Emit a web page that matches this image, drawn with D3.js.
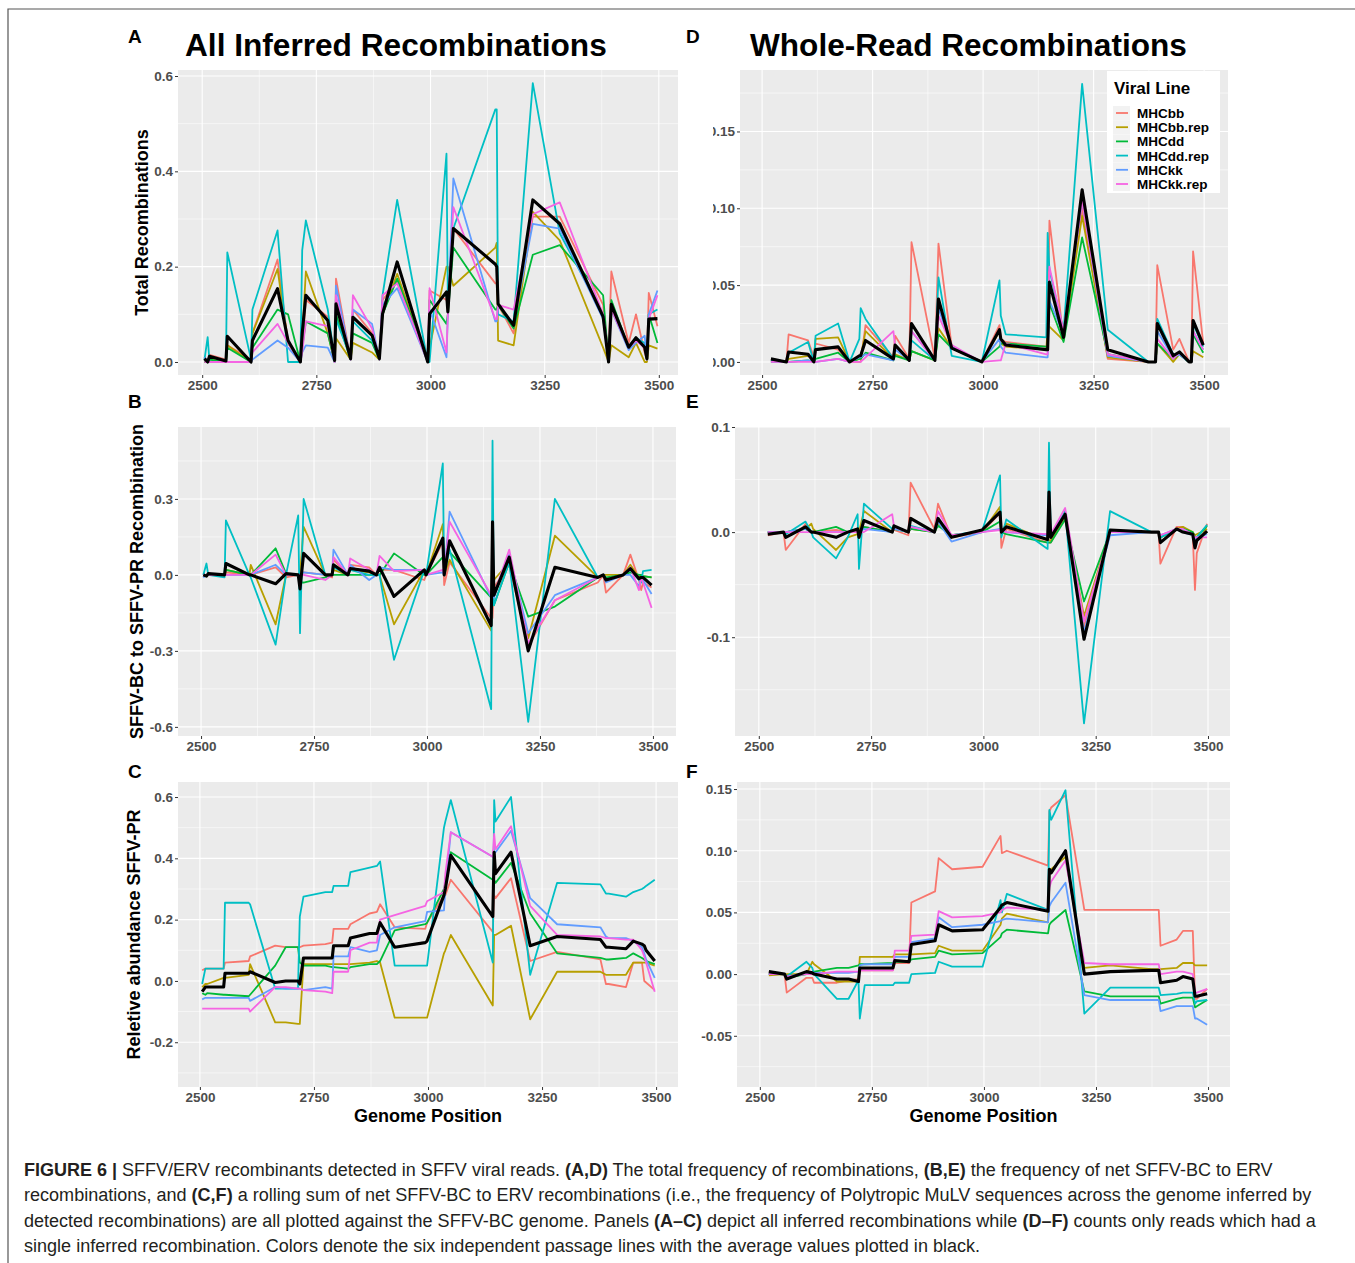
<!DOCTYPE html>
<html>
<head>
<meta charset="utf-8">
<script src="https://cdn.jsdelivr.net/npm/d3@7"></script>
<style>
  body { margin: 0; background: #fff; }
  text { font-family: "Liberation Sans", Arial, Helvetica, sans-serif; }
</style>
</head>
<body>
<script>
// ---- data ----
var lineNames = ["MHCbb", "MHCbb.rep", "MHCdd", "MHCdd.rep", "MHCkk", "MHCkk.rep", "Average"];
var xTicks = [2500, 2750, 3000, 3250, 3500];

// genome positions of the recombination points (left panels A-C, right panels D-F)
var posAll = [2505,2512,2516,2552,2555,2607,2610,2665,2688,2715,2719,2727,2775,2790,2793,2825,2830,2872,2888,2895,
              2927,2994,2998,3035,3038,3050,3142,3145,3148,3182,3224,3283,3378,3390,3396,3434,3450,3469,3474,3478,3497];
var posWhole = [2520,2555,2560,2604,2617,2621,2672,2698,2720,2723,2734,2797,2801,2833,2838,2891,2899,2929,2997,3037,
                3040,3051,3143,3146,3150,3182,3224,3282,3374,3390,3394,3430,3444,3466,3471,3475,3498];

// A: total recombinations, all inferred (rows follow lineNames)
var totalAll = [
  [0.01,0.0,0.015,0.005,0.035,0.005,0.06,0.215,0.04,0.0,0.03,0.13,0.095,0.005,0.175,0.005,0.11,0.06,0.005,0.13,0.17,0.0,0.15,0.13,0.12,0.28,0.165,0.165,0.12,0.06,0.305,0.305,0.12,0.01,0.19,0.04,0.10,0.02,0.005,0.145,0.075],
  [0.0,0.0,0.005,0.0,0.035,0.0,0.06,0.195,0.04,0.0,0.05,0.19,0.06,0.0,0.05,0.005,0.04,0.02,0.005,0.10,0.185,0.0,0.03,0.20,0.2,0.16,0.24,0.25,0.045,0.035,0.315,0.255,0.03,0.0,0.035,0.01,0.04,0.0,0.0,0.035,0.028],
  [0.0,0.0,0.005,0.0,0.03,0.0,0.03,0.11,0.10,0.0,0.03,0.085,0.06,0.0,0.1,0.005,0.06,0.04,0.005,0.10,0.175,0.0,0.13,0.08,0.1,0.24,0.11,0.11,0.12,0.07,0.225,0.245,0.14,0.0,0.13,0.03,0.05,0.03,0.005,0.1,0.04],
  [0.005,0.052,0.0,0.0,0.23,0.005,0.11,0.276,0.0,0.0,0.234,0.297,0.11,0.005,0.09,0.01,0.085,0.045,0.01,0.14,0.34,0.0,0.0,0.437,0.12,0.28,0.53,0.53,0.1,0.085,0.585,0.27,0.1,0.005,0.12,0.03,0.05,0.04,0.01,0.1,0.11],
  [0.01,0.0,0.0,0.0,0.0,0.0,0.005,0.045,0.03,0.0,0.02,0.035,0.03,0.0,0.16,0.005,0.11,0.08,0.005,0.12,0.155,0.0,0.11,0.01,0.1,0.385,0.085,0.085,0.12,0.08,0.29,0.28,0.09,0.005,0.11,0.025,0.04,0.055,0.005,0.1,0.15],
  [0.0,0.0,0.0,0.0,0.0,0.0,0.02,0.08,0.04,0.0,0.02,0.085,0.075,0.0,0.14,0.005,0.14,0.07,0.005,0.14,0.165,0.0,0.155,0.02,0.1,0.325,0.09,0.09,0.12,0.11,0.31,0.335,0.1,0.005,0.11,0.03,0.045,0.03,0.005,0.09,0.14],
  [0.007,0.0,0.012,0.002,0.054,0.0,0.045,0.154,0.045,0.0,0.06,0.14,0.087,0.003,0.122,0.007,0.094,0.056,0.007,0.101,0.21,0.0,0.101,0.147,0.105,0.28,0.205,0.2,0.122,0.077,0.34,0.29,0.095,0.0,0.121,0.031,0.051,0.031,0.007,0.09,0.091]
];

// B: net SFFV-BC to SFFV-PR recombination, all inferred
var netAll = [
  [0.0,0.0,0.0,0.0,0.01,0.0,0.0,0.03,-0.01,0.0,0.01,0.01,0.0,-0.01,0.06,0.0,0.04,0.03,0.0,0.02,0.02,-0.02,0.0,0.13,-0.04,0.05,-0.17,-0.17,-0.05,0.04,-0.28,-0.1,-0.03,0.0,-0.07,0.0,0.08,-0.02,-0.06,-0.03,-0.05],
  [0.0,0.0,0.0,0.0,0.02,0.0,0.04,-0.195,0.0,0.0,0.0,0.19,0.0,0.0,0.02,0.0,0.02,0.01,0.0,0.0,-0.195,0.02,0.0,0.2,0.0,0.06,-0.22,-0.02,-0.02,0.05,-0.25,0.155,-0.01,0.0,0.0,0.0,0.04,-0.01,0.0,-0.005,-0.01],
  [0.0,0.0,0.0,0.0,0.02,0.0,0.0,0.105,0.005,0.0,-0.03,-0.03,-0.01,0.0,0.0,0.0,0.0,0.0,0.0,0.0,0.085,0.0,0.0,0.07,0.07,0.09,-0.09,-0.09,-0.12,0.05,-0.165,-0.125,-0.01,0.0,-0.01,0.0,0.01,0.0,0.0,-0.005,-0.01],
  [0.0,0.045,0.0,-0.01,0.215,0.0,-0.01,-0.275,0.0,0.235,-0.23,0.3,0.0,0.0,0.03,0.0,0.02,0.0,0.0,0.0,-0.335,0.02,0.0,0.44,0.0,0.1,-0.53,0.53,-0.12,0.05,-0.58,0.3,-0.01,0.0,-0.02,0.0,0.02,-0.02,-0.03,0.015,0.02],
  [-0.01,0.0,0.005,0.0,0.0,0.0,0.0,0.04,0.0,0.0,0.0,0.01,0.0,0.0,0.1,0.0,0.04,-0.02,0.0,0.03,0.02,0.02,0.0,0.01,0.0,0.25,-0.09,-0.09,-0.09,0.08,-0.23,-0.08,-0.01,0.0,-0.03,0.0,0.0,-0.045,-0.01,-0.02,-0.075],
  [0.0,0.0,0.0,0.0,0.0,0.0,0.0,0.08,0.0,0.0,0.0,0.0,-0.02,0.0,0.07,0.0,0.065,0.02,0.0,0.075,0.015,0.02,0.0,0.02,0.0,0.21,-0.08,-0.08,-0.08,0.1,-0.27,-0.1,-0.01,0.0,-0.02,0.0,0.03,-0.06,-0.01,-0.03,-0.13],
  [0.0,-0.005,0.005,0.0,0.045,0.0,0.0,-0.035,0.005,0.0,-0.055,0.085,0.0,0.0,0.04,0.0,0.025,0.015,0.0,0.03,-0.085,0.02,0.0,0.145,0.0,0.135,-0.2,0.21,-0.08,0.07,-0.3,0.03,-0.01,0.0,-0.02,0.0,0.025,-0.015,-0.01,-0.01,-0.04]
];

// C: relative abundance SFFV-PR (rolling sum), all inferred
var abundAll = [
  [0.035,0.04,0.04,0.04,0.06,0.065,0.08,0.115,0.11,0.11,0.11,0.115,0.12,0.125,0.17,0.17,0.185,0.22,0.225,0.25,0.175,0.17,0.19,0.28,0.28,0.33,0.16,0.28,0.27,0.335,0.065,0.095,0.07,-0.01,-0.01,-0.02,0.06,0.06,0.0,-0.005,-0.03],
  [-0.02,-0.01,-0.01,0.01,0.01,0.02,0.055,-0.135,-0.135,-0.14,-0.14,0.055,0.055,0.055,0.055,0.055,0.055,0.06,0.065,0.06,-0.12,-0.12,-0.12,0.09,0.1,0.15,-0.08,0.15,0.15,0.18,-0.125,0.03,0.03,0.02,0.02,0.02,0.06,0.06,0.06,0.06,0.05],
  [-0.04,-0.045,-0.04,-0.045,-0.045,-0.05,-0.045,0.05,0.11,0.11,0.06,0.05,0.05,0.045,0.045,0.04,0.045,0.055,0.055,0.065,0.165,0.185,0.19,0.3,0.32,0.42,0.33,0.33,0.32,0.385,0.22,0.09,0.075,0.07,0.07,0.075,0.09,0.075,0.07,0.065,0.055],
  [-0.01,0.04,0.04,0.04,0.255,0.255,0.25,-0.025,-0.025,-0.025,0.21,0.275,0.29,0.29,0.31,0.31,0.355,0.37,0.375,0.39,0.05,0.05,0.05,0.5,0.52,0.59,0.06,0.59,0.52,0.6,0.02,0.32,0.315,0.285,0.285,0.275,0.29,0.3,0.305,0.31,0.33],
  [-0.06,-0.055,-0.055,-0.055,-0.055,-0.055,-0.065,-0.02,-0.025,-0.025,-0.025,-0.03,-0.02,-0.025,0.08,0.08,0.11,0.095,0.1,0.15,0.175,0.195,0.225,0.23,0.3,0.485,0.405,0.42,0.42,0.49,0.27,0.185,0.175,0.145,0.14,0.14,0.13,0.11,0.09,0.07,0.01],
  [-0.09,-0.09,-0.09,-0.09,-0.09,-0.09,-0.1,-0.02,-0.02,-0.025,-0.025,-0.03,-0.035,-0.04,0.03,0.03,0.1,0.125,0.125,0.2,0.215,0.245,0.26,0.29,0.35,0.485,0.405,0.48,0.43,0.505,0.245,0.15,0.145,0.14,0.14,0.135,0.135,0.1,0.08,0.06,-0.035],
  [-0.035,-0.02,-0.02,-0.02,0.025,0.025,0.03,-0.005,0.0,0.0,-0.01,0.075,0.075,0.075,0.115,0.115,0.14,0.155,0.155,0.19,0.11,0.125,0.13,0.28,0.3,0.41,0.21,0.42,0.35,0.42,0.115,0.145,0.135,0.11,0.11,0.105,0.13,0.12,0.115,0.1,0.065]
];

// D: total recombinations, whole-read
var totalWhole = [
  [0.002,0.0,0.018,0.014,0.003,0.012,0.008,0.0,0.0,0.0,0.024,0.003,0.017,0.002,0.078,0.002,0.077,0.01,0.0,0.024,0.015,0.013,0.01,0.01,0.092,0.015,0.1,0.002,0.0,0.0,0.063,0.008,0.015,0.0,0.0,0.072,0.012],
  [0.0,0.0,0.002,0.004,0.002,0.015,0.016,0.0,0.002,0.003,0.02,0.002,0.005,0.001,0.007,0.001,0.022,0.009,0.0,0.02,0.012,0.01,0.008,0.023,0.023,0.014,0.095,0.003,0.0,0.0,0.012,0.0,0.005,0.0,0.0,0.007,0.003],
  [0.0,0.0,0.0,0.001,0.0,0.002,0.006,0.0,0.002,0.002,0.006,0.001,0.004,0.001,0.007,0.001,0.018,0.009,0.0,0.01,0.012,0.012,0.01,0.01,0.038,0.013,0.081,0.005,0.0,0.0,0.012,0.002,0.005,0.0,0.0,0.018,0.006],
  [0.001,0.0,0.006,0.013,0.0,0.017,0.025,0.0,0.015,0.035,0.028,0.002,0.01,0.001,0.014,0.001,0.055,0.004,0.0,0.053,0.03,0.018,0.016,0.084,0.06,0.02,0.181,0.021,0.0,0.0,0.028,0.005,0.005,0.0,0.0,0.025,0.01],
  [0.0,0.0,0.0,0.001,0.0,0.0,0.002,0.0,0.003,0.003,0.005,0.001,0.008,0.001,0.02,0.001,0.035,0.01,0.0,0.015,0.01,0.006,0.003,0.003,0.04,0.018,0.105,0.004,0.0,0.0,0.02,0.003,0.005,0.0,0.0,0.02,0.008],
  [0.0,0.0,0.0,0.0,0.0,0.0,0.002,0.0,0.0,0.0,0.003,0.02,0.01,0.002,0.02,0.001,0.03,0.011,0.0,0.001,0.001,0.012,0.005,0.005,0.062,0.02,0.105,0.005,0.0,0.0,0.015,0.002,0.006,0.0,0.0,0.02,0.008],
  [0.002,0.0,0.0065,0.005,0.0,0.008,0.0098,0.0,0.004,0.004,0.014,0.002,0.011,0.001,0.025,0.001,0.041,0.009,0.0,0.021,0.015,0.011,0.008,0.008,0.052,0.016,0.112,0.008,0.0,0.0,0.025,0.004,0.0065,0.0,0.0,0.027,0.011]
];

// E: net recombination, whole-read
var netWhole = [
  [-0.003,0.0,-0.017,0.008,0.0,0.0,0.002,0.0,0.0,0.0,0.005,0.0,0.002,-0.003,0.047,0.003,0.027,-0.005,0.0,0.018,-0.015,0.003,-0.01,-0.01,-0.01,0.015,-0.09,0.0,0.0,0.0,-0.03,0.005,0.005,-0.002,-0.055,-0.02,0.008],
  [0.0,0.0,0.0,0.003,0.008,0.003,-0.017,-0.005,-0.002,0.0,0.02,0.0,0.003,0.0,0.003,0.0,0.008,-0.003,0.0,0.024,0.0,0.008,-0.008,-0.008,-0.008,0.015,-0.08,0.0,0.0,0.0,-0.005,0.003,0.005,0.0,-0.003,-0.002,0.003],
  [0.0,0.0,0.0,0.003,0.0,0.0,0.005,0.0,0.002,0.0,0.005,0.0,0.003,0.0,0.003,0.0,0.006,-0.003,0.0,0.01,0.0,-0.002,-0.01,-0.01,-0.01,0.012,-0.066,0.0,0.0,0.0,-0.005,0.003,0.003,0.0,-0.005,-0.005,0.006],
  [0.0,0.0,-0.002,0.01,0.0,-0.005,-0.025,-0.005,0.017,-0.035,0.027,0.003,0.005,0.0,0.006,0.0,0.01,-0.003,0.001,0.054,-0.005,0.012,-0.016,0.085,-0.005,0.02,-0.182,0.02,0.0,0.0,-0.005,0.003,0.003,-0.002,-0.01,-0.005,0.007],
  [0.0,0.0,0.0,0.003,0.0,0.0,0.0,0.0,0.003,0.0,0.003,0.0,0.003,0.0,0.005,0.0,0.01,-0.009,0.0,0.003,0.003,0.0,-0.003,-0.003,-0.003,0.018,-0.095,-0.003,0.0,0.0,-0.003,0.003,0.0,-0.003,-0.01,-0.005,-0.002],
  [0.0,0.0,0.0,0.0,0.0,0.0,0.0,0.0,0.0,0.0,0.0,0.017,0.005,0.0,0.005,0.0,0.02,-0.003,0.0,0.002,0.002,0.0,-0.002,-0.002,-0.002,0.023,-0.085,0.0,0.0,0.0,-0.003,0.003,0.003,-0.002,-0.005,-0.005,-0.005],
  [-0.002,0.0,-0.005,0.005,0.0,0.0,-0.005,0.0,0.003,-0.005,0.011,0.0,0.006,0.0,0.013,0.0,0.013,-0.005,0.002,0.019,0.0,0.005,-0.007,0.038,-0.005,0.017,-0.102,0.002,0.0,0.0,-0.01,0.003,0.0,-0.002,-0.015,-0.008,0.001]
];

// F: relative abundance (rolling sum), whole-read
var abundWhole = [
  [0.002,0.0,-0.015,-0.003,-0.003,-0.007,-0.007,-0.005,-0.004,0.003,0.003,0.003,0.009,0.009,0.058,0.067,0.094,0.085,0.087,0.112,0.098,0.1,0.088,0.132,0.135,0.145,0.052,0.052,0.052,0.052,0.023,0.028,0.035,0.035,-0.02,-0.02,-0.012],
  [-0.001,0.0,0.0,0.0,0.01,0.008,-0.006,-0.006,-0.006,0.014,0.014,0.014,0.016,0.016,0.016,0.017,0.023,0.019,0.019,0.04,0.045,0.049,0.042,0.082,0.085,0.095,0.005,0.007,0.004,0.004,0.004,0.005,0.009,0.009,0.007,0.007,0.007],
  [0.0,0.0,-0.003,0.0,0.0,0.002,0.005,0.005,0.007,0.008,0.008,0.009,0.01,0.01,0.012,0.014,0.019,0.016,0.017,0.03,0.033,0.036,0.033,0.04,0.042,0.052,-0.014,-0.018,-0.018,-0.018,-0.024,-0.02,-0.019,-0.019,-0.027,-0.026,-0.021],
  [0.0,0.0,-0.002,0.01,0.005,0.0,-0.02,-0.02,-0.005,-0.036,-0.009,-0.009,-0.007,-0.007,0.0,0.001,0.01,0.006,0.006,0.06,0.05,0.065,0.052,0.133,0.125,0.149,-0.032,-0.011,-0.011,-0.011,-0.017,-0.016,-0.015,-0.015,-0.024,-0.022,-0.021],
  [0.0,0.0,-0.002,0.001,0.001,0.001,0.001,0.001,0.002,0.007,0.008,0.008,0.014,0.014,0.026,0.029,0.046,0.038,0.04,0.043,0.044,0.045,0.042,0.055,0.058,0.074,-0.017,-0.021,-0.021,-0.021,-0.03,-0.026,-0.026,-0.026,-0.036,-0.036,-0.041],
  [0.0,0.0,-0.002,0.0,0.0,0.0,0.002,0.002,0.002,0.003,0.003,0.003,0.019,0.019,0.031,0.032,0.051,0.046,0.047,0.05,0.052,0.054,0.052,0.07,0.075,0.092,0.009,0.008,0.008,0.008,0.0,0.002,0.002,0.0,-0.015,-0.015,-0.012],
  [0.002,0.0,-0.004,0.002,0.001,0.0,-0.004,-0.004,-0.006,0.005,0.005,0.005,0.011,0.01,0.024,0.027,0.04,0.035,0.036,0.054,0.056,0.058,0.051,0.085,0.082,0.1,0.0,0.002,0.003,0.003,-0.007,-0.005,-0.002,-0.004,-0.018,-0.018,-0.016]
];

// y tick values per panel
var yTicksA = [0, 0.2, 0.4, 0.6];
var yTicksB = [-0.6, -0.3, 0, 0.3];
var yTicksC = [-0.2, 0, 0.2, 0.4, 0.6];
var yTicksD = [0, 0.05, 0.10, 0.15];
var yTicksE = [-0.1, 0, 0.1];
var yTicksF = [-0.05, 0, 0.05, 0.10, 0.15];

// ---- drawing ----
var color = d3.scaleOrdinal()
    .domain(lineNames)
    .range(["#F8766D", "#B79F00", "#00BA38", "#00BFC4", "#619CFF", "#F564E3", "#000000"]);

var svg = d3.select("body").append("svg")
    .attr("width", 1355)
    .attr("height", 1263)
    .style("display", "block");

svg.append("rect").attr("width", 1355).attr("height", 1263).attr("fill", "#fff");

// figure frame (top and left edges visible)
svg.append("path")
    .attr("d", "M8,1263V9H1355")
    .attr("fill", "none")
    .attr("stroke", "#555")
    .attr("stroke-width", 1.2);

function minorTicks(ticks, domain) {
  var step = ticks[1] - ticks[0], out = [];
  for (var k = -1; k <= ticks.length; k++) {
    var v = ticks[0] + step * (k + 0.5);
    if (v > domain[0] && v < domain[1]) out.push(v);
  }
  return out;
}

var clipCount = 0;

function drawPanel(p) {
  var x = d3.scaleLinear().domain(p.xDomain).range([p.left, p.right]);
  var y = d3.scaleLinear().domain(p.yDomain).range([p.bottom, p.top]);
  var g = svg.append("g");

  g.append("rect")
      .attr("x", p.left).attr("y", p.top)
      .attr("width", p.right - p.left).attr("height", p.bottom - p.top)
      .attr("fill", "#EBEBEB");

  // minor grid
  g.selectAll(".minx").data(minorTicks(xTicks, p.xDomain)).enter().append("line")
      .attr("x1", d => x(d)).attr("x2", d => x(d)).attr("y1", p.top).attr("y2", p.bottom)
      .attr("stroke", "#fff").attr("stroke-width", 0.55);
  g.selectAll(".miny").data(minorTicks(p.yTicks, p.yDomain)).enter().append("line")
      .attr("y1", d => y(d)).attr("y2", d => y(d)).attr("x1", p.left).attr("x2", p.right)
      .attr("stroke", "#fff").attr("stroke-width", 0.55);
  // major grid
  g.selectAll(".majx").data(xTicks).enter().append("line")
      .attr("x1", d => x(d)).attr("x2", d => x(d)).attr("y1", p.top).attr("y2", p.bottom)
      .attr("stroke", "#fff").attr("stroke-width", 1.1);
  g.selectAll(".majy").data(p.yTicks).enter().append("line")
      .attr("y1", d => y(d)).attr("y2", d => y(d)).attr("x1", p.left).attr("x2", p.right)
      .attr("stroke", "#fff").attr("stroke-width", 1.1);

  // lines
  var cid = "clip" + (clipCount++);
  svg.append("clipPath").attr("id", cid).append("rect")
      .attr("x", p.left).attr("y", p.top)
      .attr("width", p.right - p.left).attr("height", p.bottom - p.top);

  var line = d3.line()
      .x((d, i) => x(p.pos[i]))
      .y(d => y(d));

  var rows = p.values.map((v, i) => ({name: lineNames[i], v: v}));
  g.append("g").attr("clip-path", "url(#" + cid + ")")
    .selectAll("path").data(rows).enter().append("path")
      .attr("d", d => line(d.v))
      .attr("fill", "none")
      .attr("stroke", d => color(d.name))
      .attr("stroke-width", d => d.name == "Average" ? 3.1 : 1.8)
      .attr("stroke-linejoin", "round")
      .attr("stroke-linecap", "butt");

  // axes
  var fmt = d3.format(p.fmt);
  var gx = g.append("g")
      .attr("transform", "translate(0," + p.bottom + ")")
      .call(d3.axisBottom(x).tickValues(xTicks).tickSize(3).tickPadding(2).tickFormat(d3.format("d")));
  var yWrap = g.append("g");
  var gy = yWrap.append("g")
      .attr("transform", "translate(" + p.left + ",0)")
      .call(d3.axisLeft(y).tickValues(p.yTicks).tickSize(3).tickPadding(2)
            .tickFormat(d => fmt(d).replace("\u2212", "-")));
  [gx, gy].forEach(function(a) {
    a.select(".domain").remove();
    a.selectAll("line").attr("stroke", "#333").attr("stroke-width", 1);
    a.selectAll("text")
        .attr("fill", "#4D4D4D")
        .style("font-size", "13.5px")
        .style("font-weight", "bold")
        .style("font-family", '"Liberation Sans", Arial, Helvetica, sans-serif');
  });
  if (p.clipLabels) {
    // the y labels of this panel are cut off on their left side in the figure
    var lid = "clip" + (clipCount++);
    svg.append("clipPath").attr("id", lid).append("rect")
        .attr("x", p.clipLabels).attr("y", p.top - 20)
        .attr("width", p.left - p.clipLabels + 5).attr("height", p.bottom - p.top + 40);
    yWrap.attr("clip-path", "url(#" + lid + ")");
  }

  // panel letter
  svg.append("text")
      .attr("x", p.letterX).attr("y", p.letterY)
      .style("font-size", "19px").style("font-weight", "bold")
      .text(p.letter);

  if (p.yTitle) {
    svg.append("text")
        .attr("transform", "translate(" + p.yTitleX + "," + ((p.top + p.bottom) / 2 + p.yTitleShift) + ") rotate(-90)")
        .attr("text-anchor", "middle")
        .style("font-size", "18px").style("font-weight", "bold")
        .text(p.yTitle);
  }
  if (p.xTitle) {
    svg.append("text")
        .attr("x", (p.left + p.right) / 2).attr("y", 1122)
        .attr("text-anchor", "middle")
        .style("font-size", "18px").style("font-weight", "bold")
        .text(p.xTitle);
  }
  return {x: x, y: y};
}

drawPanel({letter: "A", letterX: 128, letterY: 43, pos: posAll, values: totalAll,
  left: 178, right: 678, top: 70, bottom: 375, xDomain: [2447, 3542], yDomain: [-0.0273, 0.6126],
  yTicks: yTicksA, fmt: ".1f", yTitle: "Total Recombinations", yTitleX: 148, yTitleShift: 0});
drawPanel({letter: "B", letterX: 128, letterY: 408, pos: posAll, values: netAll,
  left: 178, right: 676, top: 427, bottom: 736, xDomain: [2449, 3551], yDomain: [-0.636, 0.584],
  yTicks: yTicksB, fmt: ".1f", yTitle: "SFFV-BC to SFFV-PR Recombination", yTitleX: 143, yTitleShift: 0});
drawPanel({letter: "C", letterX: 128, letterY: 778, pos: posAll, values: abundAll,
  left: 178, right: 678, top: 782, bottom: 1087, xDomain: [2452, 3548], yDomain: [-0.346, 0.649],
  yTicks: yTicksC, fmt: ".1f", yTitle: "Reletive abundance SFFV-PR", yTitleX: 140, yTitleShift: 0,
  xTitle: "Genome Position"});
drawPanel({letter: "D", letterX: 686, letterY: 43, pos: posWhole, values: totalWhole,
  left: 740, right: 1228, top: 70, bottom: 375, xDomain: [2450, 3554], yDomain: [-0.0085, 0.19],
  yTicks: yTicksD, fmt: ".2f", clipLabels: 713});
drawPanel({letter: "E", letterX: 686, letterY: 408, pos: posWhole, values: netWhole,
  left: 735, right: 1230, top: 427, bottom: 736, xDomain: [2447, 3549], yDomain: [-0.194, 0.1],
  yTicks: yTicksE, fmt: ".1f"});
drawPanel({letter: "F", letterX: 686, letterY: 778, pos: posWhole, values: abundWhole,
  left: 737, right: 1230, top: 782, bottom: 1087, xDomain: [2449, 3549], yDomain: [-0.0915, 0.1557],
  yTicks: yTicksF, fmt: ".2f", xTitle: "Genome Position"});

// fit a text element to a target width by adjusting its font size
function fitWidth(sel, w) {
  var cur = sel.node().getComputedTextLength();
  var fs = parseFloat(sel.style("font-size"));
  if (cur > 0) sel.style("font-size", (fs * w / cur) + "px");
}

// column titles
var t1 = svg.append("text").attr("x", 185).attr("y", 56)
    .style("font-size", "30px").style("font-weight", "bold")
    .text("All Inferred Recombinations");
fitWidth(t1, 422);
var t2 = svg.append("text").attr("x", 750).attr("y", 56)
    .style("font-size", "30px").style("font-weight", "bold")
    .text("Whole-Read Recombinations");
fitWidth(t2, 437);

// legend
var legend = svg.append("g").attr("transform", "translate(1107,71)");
legend.append("rect").attr("width", 113).attr("height", 122).attr("fill", "#fff");
legend.append("text").attr("x", 7).attr("y", 23)
    .style("font-size", "17px").style("font-weight", "bold")
    .text("Viral Line");
var items = legend.selectAll(".item").data(lineNames.slice(0, 6)).enter().append("g")
    .attr("transform", (d, i) => "translate(0," + (42 + i * 14.2) + ")");
items.append("rect").attr("x", 6).attr("y", -7).attr("width", 17).attr("height", 14).attr("fill", "#F2F2F2");
items.append("line").attr("x1", 9).attr("x2", 21).attr("y1", 0).attr("y2", 0)
    .attr("stroke", d => color(d)).attr("stroke-width", 1.8);
items.append("text").attr("x", 30).attr("y", 5)
    .style("font-size", "13.5px").style("font-weight", "bold")
    .text(d => d);

// caption
var captionLines = [
  [["FIGURE 6 | ", true], ["SFFV/ERV recombinants detected in SFFV viral reads. ", false], ["(A,D)", true],
   [" The total frequency of recombinations, ", false], ["(B,E)", true], [" the frequency of net SFFV-BC to ERV", false]],
  [["recombinations, and ", false], ["(C,F)", true],
   [" a rolling sum of net SFFV-BC to ERV recombinations (i.e., the frequency of Polytropic MuLV sequences across the genome inferred by", false]],
  [["detected recombinations) are all plotted against the SFFV-BC genome. Panels ", false], ["(A\u2013C)", true],
   [" depict all inferred recombinations while ", false], ["(D\u2013F)", true], [" counts only reads which had a", false]],
  [["single inferred recombination. Colors denote the six independent passage lines with the average values plotted in black.", false]]
];
var captionWidths = [1249, 1288, 1293, 956];
captionLines.forEach(function(parts, i) {
  var t = svg.append("text").attr("x", 24).attr("y", 1176 + i * 25.3)
      .attr("fill", "#231F20").style("font-size", "17px");
  parts.forEach(function(pt) {
    t.append("tspan").style("font-weight", pt[1] ? "bold" : "normal").text(pt[0]);
  });
  fitWidth(t, captionWidths[i]);
});
</script>
</body>
</html>
